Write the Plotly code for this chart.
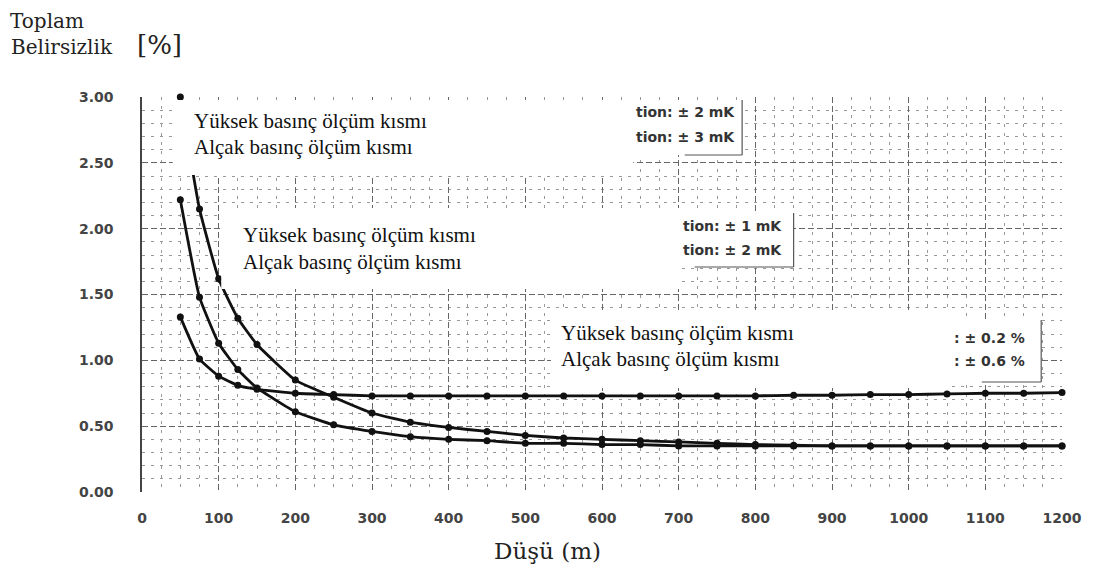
import plotly.graph_objects as go

# ---- data ----
dusu_m = [50, 75, 100, 125, 150, 200, 250, 300, 350, 400, 450, 500, 550, 600,
          650, 700, 750, 800, 850, 900, 950, 1000, 1050, 1100, 1150, 1200]
curve_a = [1.33, 1.01, 0.88, 0.81, 0.78, 0.75, 0.74, 0.73, 0.73, 0.73, 0.73, 0.73, 0.73,
           0.73, 0.73, 0.73, 0.73, 0.73, 0.735, 0.735, 0.74, 0.74, 0.745, 0.75, 0.75, 0.755]
curve_b = [2.22, 1.48, 1.13, 0.93, 0.79, 0.61, 0.51, 0.46, 0.42, 0.40, 0.39, 0.37, 0.37,
           0.36, 0.36, 0.35, 0.35, 0.35, 0.35, 0.35, 0.35, 0.35, 0.35, 0.35, 0.35, 0.35]
curve_c = [3.00, 2.15, 1.62, 1.32, 1.12, 0.85, 0.72, 0.60, 0.53, 0.49, 0.46, 0.43, 0.41,
           0.40, 0.39, 0.38, 0.37, 0.36, 0.355, 0.35, 0.35, 0.35, 0.35, 0.35, 0.35, 0.35]

x_ticks = [0, 100, 200, 300, 400, 500, 600, 700, 800, 900, 1000, 1100, 1200]
y_ticks = [0.0, 0.5, 1.0, 1.5, 2.0, 2.5, 3.0]

label_hi = "Yüksek basınç ölçüm kısmı"
label_lo = "Alçak basınç ölçüm kısmı"
sans_lines = ["tion: ± 2 mK", "tion: ± 3 mK", "tion: ± 1 mK", "tion: ± 2 mK",
              ": ± 0.2 %", ": ± 0.6 %"]

# ---- page geometry (reference pixels); the page body adds an 8 px offset ----
OFF = 8
W, H = 1094 - OFF, 579 - OFF
L, R, T, B = 142, 1071, 97, 492


def px(x):
    return (x - L) / (R - L)


def py(y):
    return (B - y) / (B - T)


fig = go.Figure()
for ys in (curve_a, curve_b, curve_c):
    fig.add_trace(go.Scatter(
        x=dusu_m, y=ys, mode="lines+markers",
        line=dict(color="#111111", width=2.8, shape="spline", smoothing=0.4),
        marker=dict(color="#111111", size=7),
        cliponaxis=False, showlegend=False, hoverinfo="skip"))

shapes = []


def white_box(x0, y0, x1, y1):
    shapes.append(dict(type="rect", xref="paper", yref="paper",
                       x0=px(x0), x1=px(x1), y0=py(y1), y1=py(y0),
                       fillcolor="white", line=dict(width=0), layer="above"))


def edge(x0, y0, x1, y1):
    shapes.append(dict(type="line", xref="paper", yref="paper",
                       x0=px(x0), x1=px(x1), y0=py(y0), y1=py(y1),
                       line=dict(color="#555", width=1.2), layer="above"))


white_box(173, 100, 638, 175)
white_box(638, 100, 748, 155)
white_box(222, 208, 687, 289)
white_box(687, 213, 800, 267)
white_box(555, 310, 958, 388)
white_box(958, 320, 1050, 382)
edge(748, 100, 748, 155)
edge(690, 155, 748, 155)
edge(800, 213, 800, 267)
edge(700, 267, 800, 267)
edge(1050, 320, 1050, 382)
edge(990, 382, 1050, 382)

ann = []


def text(x, y, s, size, family, xanchor="left", color="#111", weight="normal"):
    ann.append(dict(x=px(x), y=py(y), xref="paper", yref="paper", text=s,
                    showarrow=False, xanchor=xanchor, yanchor="middle",
                    font=dict(family=family, size=size, color=color, weight=weight)))


serif = "Liberation Serif"
text(192, 121, label_hi, 21, serif)
text(192, 147, label_lo, 21, serif)
text(242, 235, label_hi, 21, serif)
text(242, 262, label_lo, 21, serif)
text(563, 333, label_hi, 21, serif)
text(563, 359, label_lo, 21, serif)

sans = "DejaVu Sans"
text(639, 112, sans_lines[0], 14, sans, color="#333", weight="bold")
text(639, 137, sans_lines[1], 14, sans, color="#333", weight="bold")
text(686, 226, sans_lines[2], 14, sans, color="#333", weight="bold")
text(686, 250, sans_lines[3], 14, sans, color="#333", weight="bold")
text(960, 338, sans_lines[4], 14, sans, color="#333", weight="bold")
text(960, 361, sans_lines[5], 14, sans, color="#333", weight="bold")

dserif = "DejaVu Serif"
text(7, 21, "Toplam", 20, dserif, color="#222")
text(8, 47, "Belirsizlik", 20, dserif, color="#222")
text(135, 45, "[%]", 26, dserif, color="#222")
text(551, 551, "Düşü (m)", 23, dserif, xanchor="center", color="#222")

tick_font = dict(family="DejaVu Sans", size=14, color="#444", weight="bold")

fig.update_layout(
    width=W, height=H,
    margin=dict(l=L - OFF, r=W - (R - OFF), t=T - OFF, b=H - (B - OFF)),
    paper_bgcolor="white", plot_bgcolor="white",
    shapes=shapes, annotations=ann,
    xaxis=dict(range=[0, 1200], tickvals=x_ticks, ticks="", showline=False,
               zeroline=False, ticklabelstandoff=16, tickfont=tick_font,
               showgrid=True, gridcolor="#666", griddash="6px,3px", gridwidth=1,
               minor=dict(dtick=25, showgrid=True, gridcolor="#999",
                          griddash="3px,6px", gridwidth=1)),
    yaxis=dict(range=[0, 3], tickvals=y_ticks, tickformat=".2f", ticks="",
               showline=True, linecolor="#444", linewidth=1.5, zeroline=False,
               ticklabelstandoff=24, tickfont=tick_font,
               showgrid=True, gridcolor="#666", griddash="6px,3px", gridwidth=1,
               minor=dict(dtick=0.1, showgrid=True, gridcolor="#999",
                          griddash="3px,6px", gridwidth=1)),
)

fig.write_html("out.html")
